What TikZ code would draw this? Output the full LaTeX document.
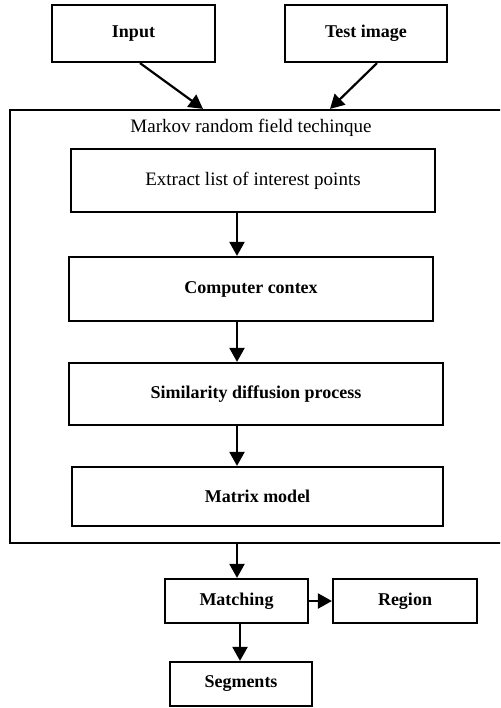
\documentclass[tikz,border=0pt]{standalone}
\usepackage{fontspec}
\setmainfont{Liberation Serif}
\usetikzlibrary{arrows.meta}
\begin{document}
\begin{tikzpicture}[x=1pt,y=-1pt,
  box/.style={draw,line width=2.2pt,rectangle,inner sep=0pt,font=\fontsize{18}{21}\selectfont\bfseries},
  rbox/.style={box,font=\fontsize{19}{22}\selectfont},
  arr/.style={line width=2.2pt,-{Triangle[length=14pt,width=15pt]}}]
\clip (0,0) rectangle (500,708);
\node[box,minimum width=163pt,minimum height=57pt] (input) at (133.5,33.5) {Input};
\node[box,minimum width=162pt,minimum height=57pt] (test) at (366,33.5) {Test image};
\node[draw,line width=2.2pt,rectangle,inner sep=0pt,minimum width=500pt,minimum height=433pt] (mrf) at (260,326.5) {};
\node[font=\fontsize{19}{22}\selectfont] (title) at (251,128) {Markov random field techinque};
\node[rbox,minimum width=364pt,minimum height=63pt] (extract) at (253,180.5) {Extract list of interest points};
\node[box,minimum width=364pt,minimum height=64pt] (computer) at (251,289) {Computer contex};
\node[box,minimum width=374pt,minimum height=62pt] (sim) at (256,394) {Similarity diffusion process};
\node[box,minimum width=371pt,minimum height=59pt] (matrix) at (257.5,496.5) {Matrix model};
\node[box,minimum width=143pt,minimum height=44pt] (matching) at (236.5,601) {Matching};
\node[box,minimum width=144pt,minimum height=44pt] (region) at (405,601) {Region};
\node[box,minimum width=142pt,minimum height=44pt] (segments) at (241,684) {Segments};
\coordinate (ax) at (237,0);
\coordinate (bx) at (240,0);
\coordinate (inA) at (140,0);
\coordinate (inB) at (203,0);
\coordinate (teA) at (377,0);
\coordinate (teB) at (330,0);
\draw[arr] (input.south -| inA) -- (mrf.north -| inB);
\draw[arr] (test.south -| teA) -- (mrf.north -| teB);
\draw[arr] (extract.south -| ax) -- (computer.north -| ax);
\draw[arr] (computer.south -| ax) -- (sim.north -| ax);
\draw[arr] (sim.south -| ax) -- (matrix.north -| ax);
\draw[arr] (mrf.south -| ax) -- (matching.north -| ax);
\draw[arr] (matching.east) -- (region.west);
\draw[arr] (matching.south -| bx) -- (segments.north -| bx);
\end{tikzpicture}
\end{document}
